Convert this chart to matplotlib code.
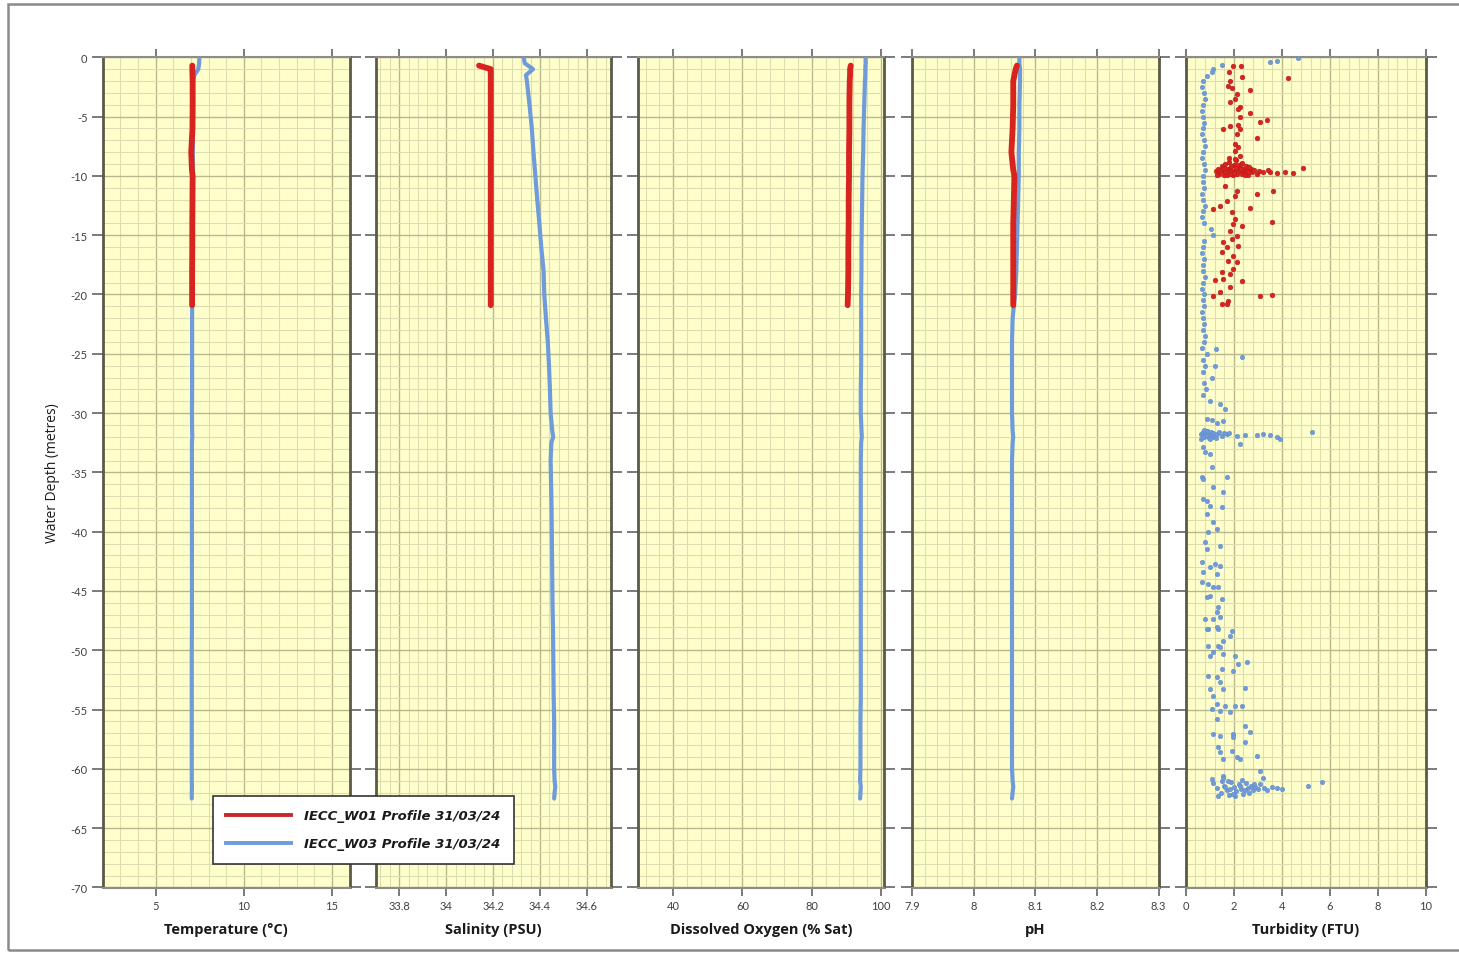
import matplotlib
matplotlib.use("Agg")
import matplotlib.pyplot as plt
from matplotlib.ticker import MultipleLocator, FuncFormatter
from matplotlib.lines import Line2D
from matplotlib.patches import Rectangle

plt.rcParams['axes.unicode_minus'] = False

# ---------------- data ----------------
series_names = ["IECC_W01 Profile 31/03/24", "IECC_W03 Profile 31/03/24"]

depth_w01 = [-0.7, -1, -1.5, -2, -4, -6, -8, -9.5, -10, -12, -14, -16, -18, -20, -20.9]
depth_w03 = [0, -0.5, -1, -1.5, -2, -4, -6, -8, -10, -12, -14, -16, -18, -20, -22, -24,
             -26, -28, -30, -31.5, -32, -32.5, -34, -36, -38, -40, -42, -44, -46, -48,
             -50, -52, -54, -56, -58, -60, -61, -61.5, -62, -62.5]

temp_w01 = [7.08, 7.08, 7.09, 7.10, 7.10, 7.09, 7.02, 7.06, 7.10, 7.09, 7.08, 7.08, 7.07, 7.07, 7.07]
temp_w03 = [7.48, 7.47, 7.42, 7.20, 7.12, 7.12, 7.12, 7.11, 7.11, 7.10, 7.10, 7.09, 7.09, 7.08,
            7.07, 7.07, 7.07, 7.07, 7.06, 7.07, 7.08, 7.06, 7.06, 7.06, 7.06, 7.06, 7.06, 7.06,
            7.06, 7.06, 7.05, 7.05, 7.05, 7.05, 7.05, 7.05, 7.05, 7.06, 7.05, 7.05]

sal_w01 = [34.14, 34.19, 34.19, 34.19, 34.19, 34.19, 34.19, 34.19, 34.19, 34.19, 34.19, 34.19, 34.19, 34.19, 34.19]
sal_w03 = [34.33, 34.335, 34.37, 34.34, 34.344, 34.355, 34.365, 34.372, 34.38, 34.388, 34.397,
           34.405, 34.415, 34.418, 34.425, 34.433, 34.438, 34.442, 34.445, 34.452, 34.456,
           34.448, 34.445, 34.447, 34.449, 34.45, 34.451, 34.452, 34.453, 34.455, 34.456,
           34.457, 34.458, 34.46, 34.46, 34.46, 34.462, 34.465, 34.462, 34.46]

do_w01 = [91.3, 91.1, 91.1, 91.0, 90.9, 90.9, 90.8, 90.8, 90.8, 90.7, 90.7, 90.6, 90.6, 90.5, 90.4]
do_w03 = [95.6, 95.6, 95.5, 95.5, 95.4, 95.2, 95.0, 94.9, 94.7, 94.6, 94.5, 94.4, 94.4, 94.3,
          94.3, 94.3, 94.3, 94.2, 94.2, 94.4, 94.5, 94.3, 94.2, 94.2, 94.2, 94.2, 94.2, 94.2,
          94.2, 94.2, 94.2, 94.2, 94.2, 94.1, 94.1, 94.1, 94.0, 94.2, 94.1, 94.0]

ph_w01 = [8.070, 8.068, 8.066, 8.064, 8.064, 8.063, 8.061, 8.064, 8.066, 8.065, 8.064, 8.064, 8.064, 8.064, 8.064]
ph_w03 = [8.074, 8.074, 8.075, 8.075, 8.075, 8.074, 8.074, 8.073, 8.073, 8.072, 8.071, 8.070,
          8.069, 8.067, 8.063, 8.062, 8.062, 8.062, 8.062, 8.063, 8.064, 8.063, 8.062, 8.062,
          8.062, 8.062, 8.062, 8.062, 8.062, 8.062, 8.062, 8.062, 8.062, 8.062, 8.062, 8.062,
          8.063, 8.064, 8.063, 8.062]

# turbidity samples as (FTU, depth m) pairs
turb_w01_upper = [(1.98, -0.71), (2.30, -0.76), (1.82, -1.27), (4.27, -1.75), (2.33, -1.69),
                  (1.84, -1.97), (1.77, -2.39), (1.91, -2.62), (2.68, -2.73), (2.12, -3.09),
                  (2.05, -3.52), (1.84, -3.80), (2.26, -4.22), (2.19, -4.36), (2.68, -4.70),
                  (2.26, -5.06), (3.09, -5.43), (3.37, -5.29), (1.84, -5.76), (2.19, -5.71),
                  (2.26, -6.04), (1.57, -6.04), (2.12, -6.47), (2.95, -6.83), (2.05, -7.31),
                  (2.19, -7.59), (2.05, -7.87), (2.26, -8.29)]
turb_w01_peak = [(1.25, -9.6), (1.35, -9.4), (1.40, -9.8), (1.50, -9.2), (1.55, -9.6),
                 (1.60, -9.9), (1.65, -9.0), (1.70, -9.4), (1.75, -9.7), (1.80, -8.8),
                 (1.85, -9.3), (1.90, -9.6), (1.95, -9.9), (2.00, -9.1), (2.05, -9.5),
                 (2.10, -8.7), (2.15, -9.8), (2.20, -9.3), (2.25, -9.6), (2.30, -9.0),
                 (2.35, -9.8), (2.40, -9.4), (2.45, -9.7), (2.50, -9.2), (2.55, -9.5),
                 (2.60, -9.9), (2.70, -9.4), (2.75, -9.7), (2.85, -9.5), (2.95, -9.8),
                 (3.05, -9.6), (3.20, -9.7), (1.30, -9.9), (1.45, -9.5), (1.70, -9.95),
                 (2.00, -9.75), (2.30, -9.45), (2.60, -9.65), (1.90, -9.2), (2.15, -9.05),
                 (1.80, -8.5), (2.35, -8.9), (2.05, -8.6), (1.60, -9.35), (1.85, -9.85),
                 (2.10, -9.35), (2.45, -9.95), (2.65, -9.25), (3.79, -9.78), (4.13, -9.70),
                 (4.48, -9.76), (4.90, -9.36), (3.51, -9.64), (3.44, -9.5)]
turb_w01_lower = [(1.64, -10.82), (2.12, -11.24), (2.95, -11.53), (3.65, -11.24), (2.05, -11.67),
                  (1.70, -12.09), (1.43, -12.51), (1.15, -12.79), (2.68, -12.74), (1.91, -13.07),
                  (2.05, -13.63), (1.98, -14.06), (2.33, -14.2), (3.58, -13.91), (1.84, -14.62),
                  (2.12, -15.04), (1.91, -15.32), (1.57, -15.60), (1.70, -16.02), (2.19, -15.88),
                  (1.50, -16.45), (1.98, -16.73), (1.77, -17.15), (2.12, -17.29), (1.98, -17.85),
                  (1.50, -18.13), (1.84, -18.27), (2.33, -18.84), (1.22, -18.75), (1.57, -18.69),
                  (1.84, -19.40), (1.43, -19.82), (1.15, -20.10), (3.09, -20.10), (3.58, -20.04),
                  (1.50, -20.80), (1.77, -20.52), (1.70, -20.80)]

turb_w03_upper = [(3.51, -0.42), (3.79, -0.28), (4.69, -0.09), (1.50, -0.65), (1.15, -0.99),
                  (1.08, -1.27), (0.87, -1.55), (0.72, -2.0), (0.68, -2.5), (0.75, -3.0),
                  (0.80, -3.5), (0.70, -4.0), (0.66, -4.5), (0.74, -5.0), (0.78, -5.5),
                  (0.71, -6.0), (0.69, -6.5), (0.76, -7.0), (0.82, -7.5), (0.73, -8.0),
                  (0.67, -8.5), (0.75, -9.0), (0.79, -9.5), (0.70, -10.0), (0.72, -10.5),
                  (0.77, -11.0), (0.68, -11.5), (0.74, -12.0), (0.81, -12.5), (0.71, -13.0),
                  (0.66, -13.5), (0.75, -14.0), (1.05, -14.5), (1.12, -15.0), (0.78, -15.5),
                  (0.72, -16.0), (0.69, -16.5), (0.76, -17.0), (0.70, -17.5), (0.74, -18.0),
                  (0.80, -18.5), (0.72, -19.0), (0.67, -19.5), (0.75, -20.0), (0.71, -20.5),
                  (0.78, -21.0), (0.69, -21.5), (0.73, -22.0), (0.77, -22.5), (0.70, -23.0),
                  (0.82, -23.5), (0.75, -24.0), (0.68, -24.5), (0.90, -25.0), (0.74, -25.5),
                  (0.79, -26.0), (0.71, -26.5), (1.10, -27.0), (0.76, -27.5), (0.85, -28.0),
                  (0.72, -28.5), (1.25, -24.6), (1.20, -26.0), (2.33, -25.3), (1.01, -28.95),
                  (1.43, -29.23), (1.64, -29.65), (0.87, -30.5), (1.08, -30.6), (1.29, -30.8),
                  (1.57, -30.7)]
turb_w03_peak32 = [(0.62, -31.8), (0.70, -31.6), (0.75, -32.0), (0.80, -31.7), (0.85, -31.9),
                   (0.90, -31.5), (0.95, -32.1), (1.00, -31.8), (1.05, -31.6), (1.10, -32.0),
                   (1.15, -31.7), (1.20, -31.9), (1.30, -31.8), (1.40, -31.6), (1.50, -31.9),
                   (1.60, -31.7), (1.70, -31.8), (1.80, -31.7), (0.65, -32.2), (0.78, -31.4),
                   (1.00, -32.2), (0.70, -32.05), (0.88, -31.55), (1.25, -32.1), (2.12, -31.9),
                   (2.47, -31.85), (2.95, -31.85), (3.23, -31.8), (3.51, -31.85), (3.79, -32.0),
                   (3.93, -32.2), (5.24, -31.6), (2.26, -32.6)]
turb_w03_middle = [(0.73, -32.9), (0.80, -33.3), (1.01, -33.45), (1.08, -34.57), (0.66, -35.42),
                   (0.73, -35.56), (1.70, -35.42), (1.15, -36.26), (1.57, -36.68), (0.73, -37.24),
                   (0.87, -37.38), (1.50, -37.95), (1.01, -37.81), (0.87, -38.51), (1.15, -39.21),
                   (1.29, -39.78), (0.94, -40.06), (0.80, -40.9), (1.43, -41.18), (0.87, -41.46),
                   (0.66, -42.59), (1.22, -42.73), (1.43, -42.87), (1.01, -43.01), (0.73, -43.42),
                   (1.29, -43.56), (0.66, -44.27), (0.94, -44.41), (1.15, -44.69), (1.36, -44.69),
                   (1.01, -45.39), (0.87, -45.53), (1.50, -45.67), (1.36, -46.38), (1.29, -46.8),
                   (1.43, -47.22), (0.80, -47.36), (1.15, -47.36), (0.94, -48.21), (1.36, -48.21),
                   (1.91, -48.35), (1.84, -48.77), (0.94, -49.61), (1.36, -49.61), (1.57, -49.19)]
turb_w03_lower = [(0.87, -48.2), (1.29, -48.06), (1.43, -49.75), (1.15, -50.17), (1.01, -50.45),
                  (1.57, -50.31), (2.05, -50.45), (2.54, -50.96), (2.19, -51.16), (1.98, -51.72),
                  (1.50, -51.58), (0.94, -52.14), (1.29, -52.28), (1.43, -52.7), (1.57, -53.26),
                  (1.01, -53.26), (2.47, -53.21), (1.15, -53.83), (1.29, -54.53), (1.64, -54.67),
                  (2.05, -54.67), (2.33, -54.73), (1.08, -54.95), (1.43, -55.09), (1.84, -55.23),
                  (1.29, -55.8), (2.47, -56.42), (2.68, -56.92), (1.15, -57.06), (1.43, -57.2),
                  (1.98, -57.06), (1.98, -57.34), (2.47, -57.76), (1.36, -58.18), (1.43, -58.6),
                  (1.91, -58.46), (2.12, -59.03), (1.57, -59.17), (2.26, -59.17), (2.95, -58.88),
                  (3.09, -60.15), (1.08, -60.85), (1.57, -60.57), (3.23, -60.8)]
turb_w03_peak61 = [(1.15, -61.2), (1.30, -61.6), (1.45, -62.0), (1.50, -61.0), (1.60, -61.4),
                   (1.70, -61.8), (1.80, -62.2), (1.90, -61.1), (2.00, -61.5), (2.10, -61.9),
                   (2.20, -61.3), (2.30, -61.7), (2.40, -62.1), (2.50, -61.2), (2.60, -61.6),
                   (2.70, -61.4), (2.80, -61.8), (2.90, -61.5), (3.00, -61.7), (3.10, -61.3),
                   (3.25, -61.6), (3.40, -61.8), (3.60, -61.5), (3.80, -61.6), (4.00, -61.7),
                   (1.35, -62.3), (1.55, -60.8), (2.05, -62.3), (2.35, -60.9), (1.75, -61.0),
                   (5.10, -61.4), (5.69, -61.1), (1.95, -62.1), (2.65, -62.0), (1.65, -61.55),
                   (2.25, -61.45), (2.85, -61.3), (1.85, -61.7), (2.45, -61.75)]

panel_labels = ["Temperature (°C)", "Salinity (PSU)", "Dissolved Oxygen (% Sat)", "pH", "Turbidity (FTU)"]
x_limits = [(2, 16), (33.7, 34.7), (29.7, 101), (7.9, 8.3), (0, 10)]
x_major = [5, 0.2, 20, 0.1, 2]
depth_limits = (-70, 0)

# ---------------- styling ----------------
W, H = 1459, 954
RED = "#D8231E"
RED_EDGE = "#B01515"
BLUE = "#6F9BDA"
BG = "#FFFFCC"
MINOR_GRID = "#DEDDB2"
MAJOR_GRID = "#B9B78C"
DARK_SPINE = "#5A5A48"
GRAY = "#8C8C8C"
TICK_TXT = "#404040"

fig = plt.figure(figsize=(W / 100, H / 100), dpi=100)
fig.patch.set_facecolor("white")

# outer frame
fig.add_artist(Rectangle((8 / W, 3 / H), 1.2, 1 - 8 / H, transform=fig.transFigure,
                         fill=False, edgecolor="#8A8A8A", lw=1.8))

panels_px = [(102.7, 349.6), (375.7, 610.5), (637.7, 884.3), (912.3, 1158.5), (1185.7, 1426.0)]
top_px, bot_px = 58.3, 888.5


def fmt_g(v, pos):
    return ("%.2f" % v).rstrip("0").rstrip(".")


axes = []
for i, (x0, x1) in enumerate(panels_px):
    ax = fig.add_axes([x0 / W, 1 - bot_px / H, (x1 - x0) / W, (bot_px - top_px) / H])
    ax.set_facecolor(BG)
    ax.set_xlim(*x_limits[i])
    ax.set_ylim(*depth_limits)
    ax.xaxis.set_major_locator(MultipleLocator(x_major[i]))
    ax.xaxis.set_minor_locator(MultipleLocator(x_major[i] / 5))
    ax.yaxis.set_major_locator(MultipleLocator(5))
    ax.yaxis.set_minor_locator(MultipleLocator(1))
    ax.xaxis.set_major_formatter(FuncFormatter(fmt_g))
    ax.grid(which="minor", color=MINOR_GRID, lw=0.8, zorder=0)
    ax.grid(which="major", color=MAJOR_GRID, lw=1.0, zorder=0)
    ax.set_axisbelow(True)
    for side in ("left", "right"):
        ax.spines[side].set_color(DARK_SPINE)
        ax.spines[side].set_linewidth(2.0)
    for side in ("top", "bottom"):
        ax.spines[side].set_color(GRAY)
        ax.spines[side].set_linewidth(1.5)
    ax.tick_params(which="minor", length=0)
    ax.tick_params(axis="x", which="major", direction="out", length=6, width=1.3,
                   color="#707070", top=True, bottom=True, labeltop=False,
                   labelsize=8, labelcolor=TICK_TXT, pad=3)
    ax.tick_params(axis="y", which="major", direction="out", length=8, width=1.3,
                   color="#707070", left=True, right=True,
                   labelleft=(i == 0), labelsize=8, labelcolor=TICK_TXT, pad=3)
    for lab in ax.get_xticklabels() + ax.get_yticklabels():
        lab.set_fontfamily("Lato")
    ax.text(0.5, -0.050, panel_labels[i], transform=ax.transAxes, ha="center", va="center",
            fontsize=10.5, fontweight="bold", family="Open Sans", color="#1A1A1A")
    axes.append(ax)

# profiles
profiles = [(temp_w01, temp_w03), (sal_w01, sal_w03), (do_w01, do_w03), (ph_w01, ph_w03)]
for ax, (v1, v3) in zip(axes[:4], profiles):
    ax.plot(v3, depth_w03, color=BLUE, lw=3.0, solid_capstyle="round", zorder=3)
    ax.plot(v1, depth_w01, color=RED, lw=4.2, solid_capstyle="round", zorder=4)

# turbidity scatter
w03_pts = turb_w03_upper + turb_w03_peak32 + turb_w03_middle + turb_w03_lower + turb_w03_peak61
w01_pts = turb_w01_upper + turb_w01_peak + turb_w01_lower
axes[4].scatter([p[0] for p in w03_pts], [p[1] for p in w03_pts], s=11, color=BLUE,
                edgecolors="#5C88C8", linewidths=0.3, zorder=3)
axes[4].scatter([p[0] for p in w01_pts], [p[1] for p in w01_pts], s=12, color=RED,
                edgecolors=RED_EDGE, linewidths=0.3, zorder=4)

# y label
fig.text(52 / W, 1 - 473 / H, "Water Depth (metres)", rotation=90, ha="center", va="center",
         fontsize=10, family="Open Sans", color="#1A1A1A")

# legend
handles = [Line2D([], [], color="#C8282A", lw=2.8), Line2D([], [], color=BLUE, lw=2.8)]
leg = fig.legend(handles, series_names, loc="upper left",
                 bbox_to_anchor=(213 / W, 1 - 797 / H), borderaxespad=0,
                 prop={"family": "DejaVu Sans", "weight": "bold", "style": "italic", "size": 9.5},
                 handlelength=4.9, handletextpad=1.0, labelspacing=1.15, borderpad=1.0,
                 frameon=True, fancybox=False, framealpha=1)
leg.get_frame().set_edgecolor("#333333")
leg.get_frame().set_linewidth(1.2)
for t in leg.get_texts():
    t.set_color("#1A1A1A")

fig.savefig("out.png", dpi=100)
